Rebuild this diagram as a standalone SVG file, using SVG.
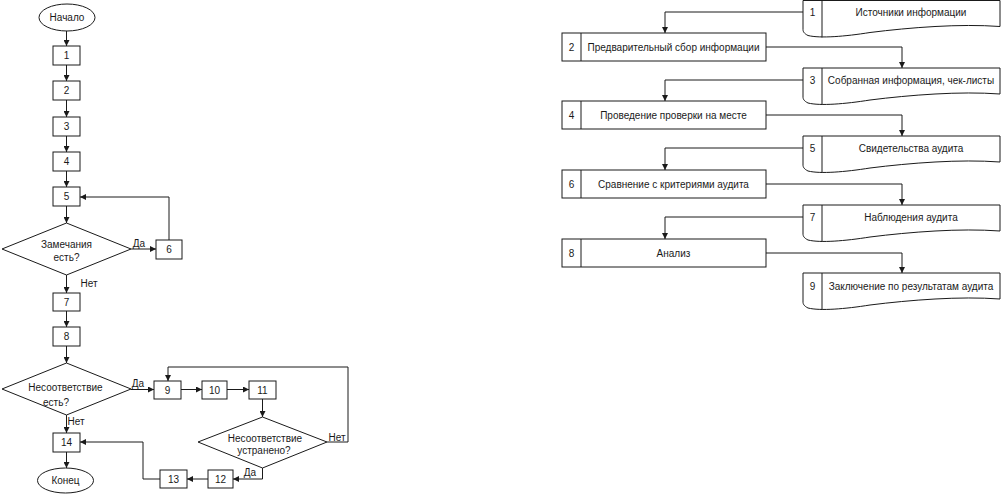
<svg xmlns="http://www.w3.org/2000/svg" width="1002" height="495" viewBox="0 0 1002 495">
<defs>
<style>
.s{fill:#fff;stroke:#1a1a1a;stroke-width:1}
.c{fill:none;stroke:#1a1a1a;stroke-width:1}
text{font-family:"Liberation Sans",Arial,sans-serif;font-size:10px;fill:#1a1a1a;dominant-baseline:central}
.m{text-anchor:middle}
</style>
<marker id="a" viewBox="0 0 10 10" refX="10" refY="5" markerWidth="7" markerHeight="6" orient="auto" markerUnits="userSpaceOnUse"><path d="M0,0 L10,5 L0,10 z" fill="#1a1a1a"/></marker>
</defs>
<rect width="1002" height="495" fill="#fff"/>

<g id="connectors" class="c" marker-end="url(#a)">
<!-- left chart -->
<path d="M66.5,31 V46"/>
<path d="M66.5,65 V81"/>
<path d="M66.5,100 V117"/>
<path d="M66.5,136 V152"/>
<path d="M66.5,171 V187"/>
<path d="M66.5,206 V223"/>
<path d="M131,249 H156"/>
<path d="M169,240 V197 H80"/>
<path d="M66.5,275 V293"/>
<path d="M66.5,311 V327"/>
<path d="M66.5,346 V363"/>
<path d="M131,389.5 H154"/>
<path d="M181,389.5 H202"/>
<path d="M227,389.5 H249"/>
<path d="M262.5,399 V417"/>
<path d="M327,442 H348 V367 H168 V381"/>
<path d="M262.5,468 V479 H233"/>
<path d="M208,479 H187"/>
<path d="M160,479 H143 V442 H80"/>
<path d="M66.5,415 V433"/>
<path d="M66.5,452 V468"/>
<!-- right chart -->
<path d="M803,12 H665 V33"/>
<path d="M766,47 H902 V68"/>
<path d="M803,80 H665 V101"/>
<path d="M766,115 H902 V136"/>
<path d="M803,148 H665 V170"/>
<path d="M766,184 H902 V205"/>
<path d="M803,217 H665 V239"/>
<path d="M766,253 H902 V273"/>
</g>

<g id="labels">
<text x="139" y="243" class="m">Да</text>
<text x="89" y="283" class="m">Нет</text>
<text x="138" y="383" class="m">Да</text>
<text x="76" y="421" class="m">Нет</text>
<text x="337" y="437" class="m">Нет</text>
<text x="250" y="472" class="m">Да</text>
</g>

<g id="start"><ellipse class="s" cx="67" cy="17.5" rx="28" ry="13.5"/><text x="67" y="17.5" class="m">Начало</text></g>
<g id="b1"><rect class="s" x="53" y="46" width="27" height="19"/><text x="66.5" y="55.5" class="m">1</text></g>
<g id="b2"><rect class="s" x="53" y="81" width="27" height="19"/><text x="66.5" y="90.5" class="m">2</text></g>
<g id="b3"><rect class="s" x="53" y="117" width="27" height="19"/><text x="66.5" y="126.5" class="m">3</text></g>
<g id="b4"><rect class="s" x="53" y="152" width="27" height="19"/><text x="66.5" y="161.5" class="m">4</text></g>
<g id="b5"><rect class="s" x="53" y="187" width="27" height="19"/><text x="66.5" y="196.5" class="m">5</text></g>
<g id="d1"><polygon class="s" points="66.5,223 131,249 66.5,275 2,249"/><text x="66.5" y="244" class="m">Замечания</text><text x="66.5" y="257" class="m">есть?</text></g>
<g id="b6"><rect class="s" x="156" y="240" width="26" height="19"/><text x="169" y="249.5" class="m">6</text></g>
<g id="b7"><rect class="s" x="53" y="293" width="27" height="18"/><text x="66.5" y="302" class="m">7</text></g>
<g id="b8"><rect class="s" x="53" y="327" width="27" height="19"/><text x="66.5" y="336.5" class="m">8</text></g>
<g id="d2"><polygon class="s" points="66.5,363 131,389 66.5,415 2,389"/><text x="65.5" y="387" class="m">Несоответствие</text><text x="56" y="402" class="m">есть?</text></g>
<g id="b9"><rect class="s" x="154" y="381" width="27" height="18"/><text x="167.5" y="390" class="m">9</text></g>
<g id="b10"><rect class="s" x="202" y="381" width="25" height="18"/><text x="214.5" y="390" class="m">10</text></g>
<g id="b11"><rect class="s" x="249" y="381" width="27" height="18"/><text x="262.5" y="390" class="m">11</text></g>
<g id="d3"><polygon class="s" points="262.5,417 327,442 262.5,468 198,442"/><text x="265" y="438" class="m">Несоответствие</text><text x="264" y="450" class="m">устранено?</text></g>
<g id="b12"><rect class="s" x="208" y="470" width="25" height="18"/><text x="220.5" y="479" class="m">12</text></g>
<g id="b13"><rect class="s" x="160" y="470" width="27" height="18"/><text x="173.5" y="479" class="m">13</text></g>
<g id="b14"><rect class="s" x="53" y="433" width="27" height="19"/><text x="66.5" y="442.5" class="m">14</text></g>
<g id="end"><ellipse class="s" cx="65.5" cy="480.5" rx="28" ry="12.5"/><text x="65.5" y="480.5" class="m">Конец</text></g>

<!-- right chart: documents -->
<g id="doc1"><path class="s" d="M803,0.5 H1000 V26.5 C960,23.5 910,27.5 870,32.5 C845,36.5 820,38.5 808,35.5 C804,33.5 803,31.5 803,29.5 Z"/><path class="c" d="M822,0.5 V37.5"/><text x="812.5" y="12.5" class="m">1</text><text x="911" y="12.5" class="m">Источники информации</text></g>
<g id="r2"><rect class="s" x="562" y="33" width="204" height="28"/><path class="c" d="M581,33 V61"/><text x="571.5" y="47" class="m">2</text><text x="673.5" y="47" class="m">Предварительный сбор информации</text></g>
<g id="doc3"><path class="s" d="M803,68 H1000 V94 C960,91 910,95 870,100 C845,104 820,106 808,103 C804,101 803,99 803,97 Z"/><path class="c" d="M822,68 V105"/><text x="812.5" y="80" class="m">3</text><text x="911" y="80" class="m">Собранная информация, чек-листы</text></g>
<g id="r4"><rect class="s" x="562" y="101" width="204" height="28"/><path class="c" d="M581,101 V129"/><text x="571.5" y="115" class="m">4</text><text x="673.5" y="115" class="m">Проведение проверки на месте</text></g>
<g id="doc5"><path class="s" d="M803,136 H1000 V162 C960,159 910,163 870,168 C845,172 820,174 808,171 C804,169 803,167 803,165 Z"/><path class="c" d="M822,136 V173"/><text x="812.5" y="148" class="m">5</text><text x="911" y="148" class="m">Свидетельства аудита</text></g>
<g id="r6"><rect class="s" x="562" y="170" width="204" height="28"/><path class="c" d="M581,170 V198"/><text x="571.5" y="184" class="m">6</text><text x="673.5" y="184" class="m">Сравнение с критериями аудита</text></g>
<g id="doc7"><path class="s" d="M803,205 H1000 V231 C960,228 910,232 870,237 C845,241 820,243 808,240 C804,238 803,236 803,234 Z"/><path class="c" d="M822,205 V242"/><text x="812.5" y="217" class="m">7</text><text x="911" y="217" class="m">Наблюдения аудита</text></g>
<g id="r8"><rect class="s" x="562" y="239" width="204" height="28"/><path class="c" d="M581,239 V267"/><text x="571.5" y="253" class="m">8</text><text x="673.5" y="253" class="m">Анализ</text></g>
<g id="doc9"><path class="s" d="M803,273 H1000 V299 C960,296 910,300 870,305 C845,309 820,311 808,308 C804,306 803,304 803,302 Z"/><path class="c" d="M822,273 V310"/><text x="812.5" y="286" class="m">9</text><text x="911" y="286" class="m">Заключение по результатам аудита</text></g>
</svg>
